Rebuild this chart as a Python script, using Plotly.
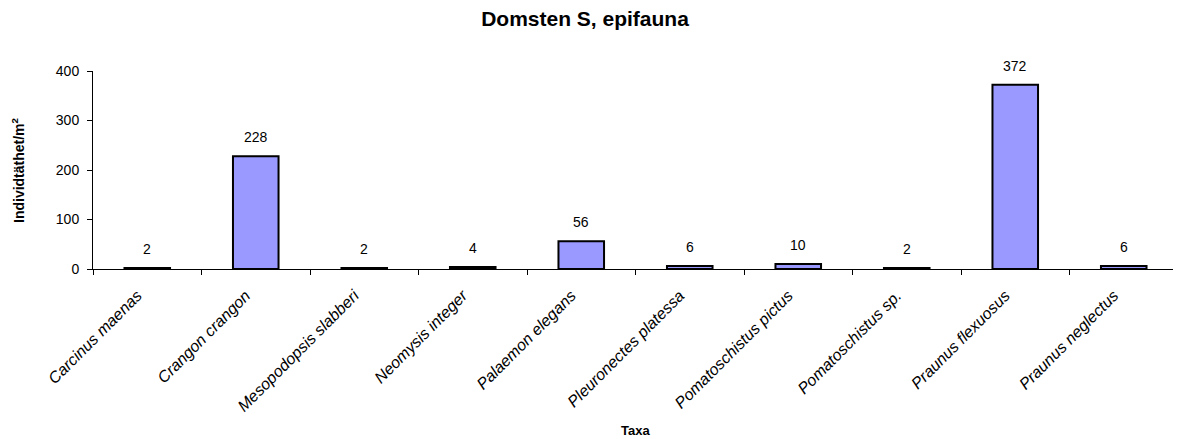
import plotly.graph_objects as go

categories = ["Carcinus maenas", "Crangon crangon", "Mesopodopsis slabberi",
              "Neomysis integer", "Palaemon elegans", "Pleuronectes platessa",
              "Pomatoschistus pictus", "Pomatoschistus sp.", "Praunus flexuosus",
              "Praunus neglectus"]
values = [2, 228, 2, 4, 56, 6, 10, 2, 372, 6]
y_ticks = [0, 100, 200, 300, 400]

FONT = "Arial, Liberation Sans, sans-serif"

# page body has an 8px default margin; compensate so the plot lands where intended
OFF = 8
W, H = 1181 - OFF, 439 - OFF
L, R, T, B = 93 - OFF, 3, 71 - OFF, 170
pw, ph = W - L - R, H - T - B

fig = go.Figure()
fig.add_trace(go.Bar(
    x=categories, y=values, width=0.42,
    marker=dict(color="#9999FF", line=dict(color="black", width=2)),
    cliponaxis=False, showlegend=False,
))
for c, v in zip(categories, values):
    fig.add_annotation(x=c, y=v, text=str(v), showarrow=False,
                       yanchor="bottom", yshift=9,
                       font=dict(family=FONT, size=14, color="black"))

# axis titles
fig.add_annotation(text="<b>Taxa</b>", showarrow=False, xref="paper", yref="paper",
                   x=0.5, y=(H - B - (430 - OFF)) / ph, xanchor="center", yanchor="middle",
                   font=dict(family=FONT, size=13, color="black"))
fig.add_annotation(text="<b>Individtäthet/m<sup>2</sup></b>", showarrow=False,
                   xref="paper", yref="paper", textangle=-90,
                   x=(18 - 93) / pw, y=0.5, xanchor="center", yanchor="middle",
                   font=dict(family=FONT, size=14, color="black"))

fig.update_layout(
    width=W, height=H,
    paper_bgcolor="white", plot_bgcolor="white",
    margin=dict(l=L, r=R, t=T, b=B, autoexpand=False),
    title=dict(text="<b>Domsten S, epifauna</b>", x=(585 - OFF) / W, xanchor="center",
               xref="container", y=1 - (19 - OFF) / H, yanchor="middle",
               font=dict(family=FONT, size=21, color="black")),
    font=dict(family=FONT, color="black"),
)
fig.update_xaxes(
    showline=True, linecolor="black", linewidth=1,
    ticks="outside", ticklen=5, tickcolor="black", tickson="boundaries",
    tickangle=-45, tickfont=dict(size=16, style="italic"),
    ticklabelshift=-10, ticklabelstandoff=10,
    showgrid=False, automargin=False,
)
fig.update_yaxes(
    range=[0, 400], tickvals=y_ticks,
    showline=True, linecolor="black", linewidth=1,
    ticks="outside", ticklen=5, tickcolor="black", ticklabelstandoff=5,
    tickfont=dict(size=14), showgrid=False, zeroline=False, automargin=False,
)
fig.write_html("out.html")
